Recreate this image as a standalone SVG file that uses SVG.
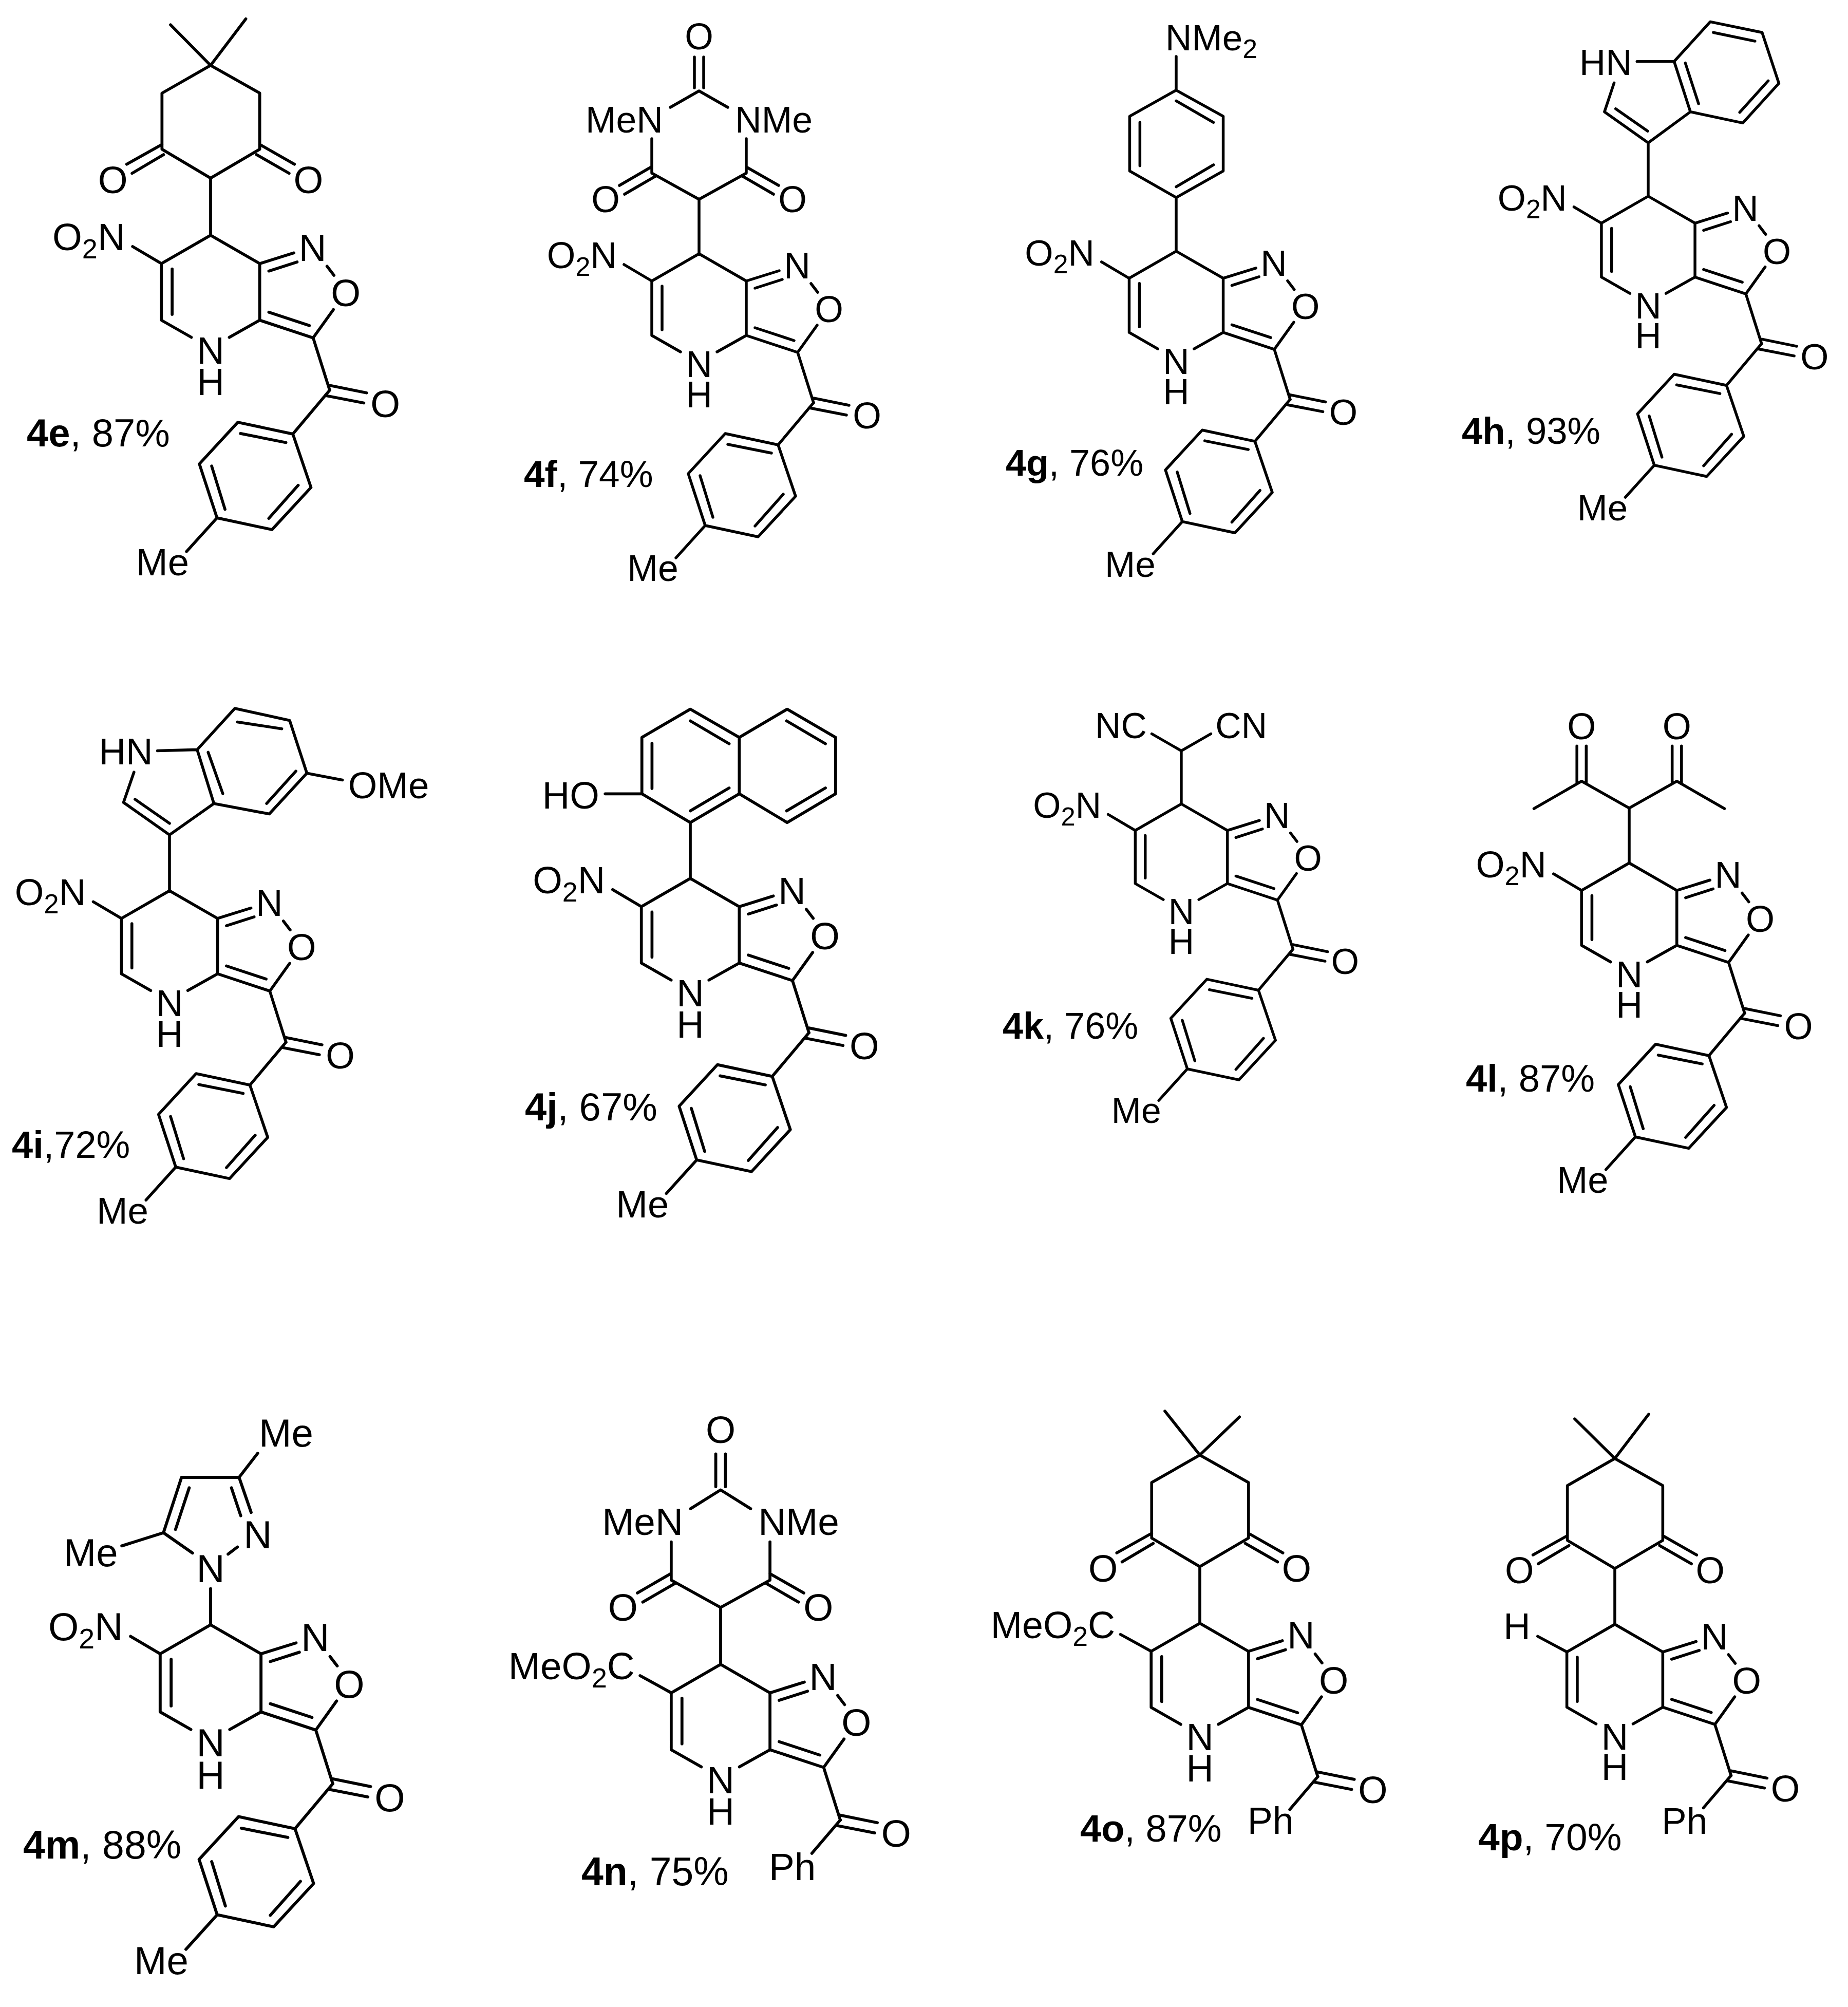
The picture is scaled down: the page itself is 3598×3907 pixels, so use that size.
<svg xmlns="http://www.w3.org/2000/svg" width="3598" height="3907" viewBox="0 0 3598 3907">
<style>
.b{fill:none;stroke:#000;stroke-width:5.5;stroke-linecap:round;stroke-linejoin:round}
text{font-family:"Liberation Sans",Arial,sans-serif;font-size:71.5px;fill:#000}
.c{text-anchor:middle}
.e{text-anchor:end}
.s{font-size:52px}
.l{font-size:74px}
.lb{font-weight:bold}
</style>
<defs>
<path id="core" class="b" d="M0 0L-92 53L-92 159L-36 191M35 191L92 159L92 53L0 0M-72 63V148M92 53L156 33M109 67L162 50M218 58L231 75M230 139L192 192L92 159M109 144L185 169M192 192L223 290M223 281L292 295M215 300L287 314"/>
<path id="tolyl" class="b" d="M223 290L154 372L51 350L-21 428L12 529L115 551L188 472L154 372M141 388L56 371M2 432L27 513M164 468L109 530M12 529L-45 592"/>
<path id="phbond" class="b" d="M223 290L170 352"/>
<path id="nitro" class="b" d="M-92 53L-146 21"/>
<path id="ester" class="b" d="M-92 53L-150 21"/>
<path id="dione" class="b" d="M0 0V-107L-91 -161V-266L0 -318L92 -266V-161L0 -107M-91 -170L-157 -133M-88 -151L-147 -116M92 -170L157 -133M86 -151L147 -116"/>
<path id="barb" class="b" d="M0 0V-106L-92 -157V-224M-56 -285L0 -317L56 -285M92 -224V-157L0 -106M-9 -323V-383M9 -323V-383M-93 -169L-155 -133M-83 -152L-145 -116M92 -169L155 -133M83 -152L145 -116"/>
</defs>

<g id="m4e" transform="translate(410 458) scale(1.04)">
<use href="#core"/><use href="#tolyl"/><use href="#nitro"/><use href="#dione"/>
<path class="b" d="M0 -318L-75 -394M0 -318L66 -405"/>
<text class="c" x="-183" y="-79">O</text><text class="c" x="183" y="-79">O</text>
<text class="e" x="-160" y="28">O<tspan class="s" dy="15">2</tspan><tspan dy="-15">N</tspan></text>
<text class="c" x="191" y="48">N</text><text class="c" x="253" y="133">O</text><text class="c" x="0" y="240">N</text><text class="c" x="0" y="299">H</text><text class="c" x="327" y="340">O</text><text class="c" x="-90" y="637">Me</text>
</g>
<text id="l4e" class="l" x="52" y="869" style="font-size:76px"><tspan class="lb">4e</tspan>, 87%</text>

<g id="m4f" transform="translate(1361 494)">
<use href="#core"/><use href="#tolyl"/><use href="#nitro"/><use href="#barb"/>
<text class="c" x="0" y="-398">O</text><text class="e" x="-70" y="-236">MeN</text><text x="70" y="-236">NMe</text><text class="c" x="-182" y="-81">O</text><text class="c" x="182" y="-81">O</text>
<text class="e" x="-160" y="28">O<tspan class="s" dy="15">2</tspan><tspan dy="-15">N</tspan></text>
<text class="c" x="191" y="48">N</text><text class="c" x="253" y="133">O</text><text class="c" x="0" y="240">N</text><text class="c" x="0" y="299">H</text><text class="c" x="327" y="340">O</text><text class="c" x="-90" y="637">Me</text>
</g>
<text id="l4f" class="l" x="1020" y="948" style="font-size:73px"><tspan class="lb">4f</tspan>, 74%</text>

<g id="m4g" transform="translate(2290 489) scale(.995)">
<use href="#core"/><use href="#tolyl"/><use href="#nitro"/>
<path class="b" d="M0 0V-105L-91 -157V-264L0 -315L92 -264V-157L0 -105M0 -294L73 -252M-71 -252V-167M0 -126L73 -169M0 -315V-381"/>
<text x="-21" y="-393">NMe<tspan class="s" dy="15">2</tspan></text>
<text class="e" x="-160" y="28">O<tspan class="s" dy="15">2</tspan><tspan dy="-15">N</tspan></text>
<text class="c" x="191" y="48">N</text><text class="c" x="253" y="133">O</text><text class="c" x="0" y="240">N</text><text class="c" x="0" y="299">H</text><text class="c" x="327" y="340">O</text><text class="c" x="-90" y="637">Me</text>
</g>
<text id="l4g" class="l" x="1958" y="926" style="font-size:72px"><tspan class="lb">4g</tspan>, 76%</text>

<g id="m4h" transform="translate(3209 382) scale(.99)">
<use href="#core"/><use href="#tolyl"/><use href="#nitro"/>
<path class="b" d="M0 0V-105L-86 -166L-67 -223M-64 -172L-1 -128M0 -105L83 -166L51 -265L-22 -265M99 -182L73 -262M51 -265L122 -343L224 -322L257 -222L186 -144L83 -166M128 -322L210 -305M236 -227L180 -165"/>
<text class="e" x="-32" y="-238">HN</text>
<text class="e" x="-160" y="28">O<tspan class="s" dy="15">2</tspan><tspan dy="-15">N</tspan></text>
<text class="c" x="191" y="48">N</text><text class="c" x="253" y="133">O</text><text class="c" x="0" y="240">N</text><text class="c" x="0" y="299">H</text><text class="c" x="327" y="340">O</text><text class="c" x="-90" y="637">Me</text>
</g>
<text id="l4h" class="l" x="2846" y="864" style="font-size:72.5px"><tspan class="lb">4h</tspan>, 93%</text>

<g id="m4i" transform="translate(330 1734) scale(1.017)">
<use href="#core"/><use href="#tolyl"/><use href="#nitro"/>
<path class="b" d="M0 0V-107L-88 -169L-68 -227M-66 -175L0 -129M0 -107L85 -167L53 -270L-23 -268M102 -186L74 -265M53 -270L125 -349L230 -326L263 -225L191 -147L85 -167M130 -323L215 -310M242 -229L186 -167M263 -225L331 -212"/>
<text class="e" x="-32" y="-242">HN</text><text x="342" y="-177">OMe</text>
<text class="e" x="-160" y="28">O<tspan class="s" dy="15">2</tspan><tspan dy="-15">N</tspan></text>
<text class="c" x="191" y="48">N</text><text class="c" x="253" y="133">O</text><text class="c" x="0" y="240">N</text><text class="c" x="0" y="299">H</text><text class="c" x="327" y="340">O</text><text class="c" x="-90" y="637">Me</text>
</g>
<text id="l4i" class="l" x="23" y="2254"><tspan class="lb">4i</tspan>,72%</text>

<g id="m4j" transform="translate(1344 1710) scale(1.036)">
<use href="#core"/><use href="#tolyl"/><use href="#nitro"/>
<path class="b" d="M0 0V-105L-91 -159V-265L0 -318L92 -265V-159L0 -105M92 -265L182 -318L273 -265V-159L182 -105L92 -159M-72 -254V-169M0 -296L73 -253M0 -127L73 -170M181 -296L254 -253M181 -127L254 -170M-91 -159H-160"/>
<text class="e" x="-171" y="-131">HO</text>
<text class="e" x="-160" y="28">O<tspan class="s" dy="15">2</tspan><tspan dy="-15">N</tspan></text>
<text class="c" x="191" y="48">N</text><text class="c" x="253" y="133">O</text><text class="c" x="0" y="240">N</text><text class="c" x="0" y="299">H</text><text class="c" x="327" y="340">O</text><text class="c" x="-90" y="637">Me</text>
</g>
<text id="l4j" class="l" x="1022" y="2181" style="font-size:76px"><tspan class="lb">4j</tspan>, 67%</text>

<g id="m4k" transform="translate(2300 1565) scale(.975)">
<use href="#core"/><use href="#tolyl"/><use href="#nitro"/>
<path class="b" d="M0 0V-106L-59 -140M0 -106L59 -140"/>
<text class="e" x="-69" y="-131">NC</text><text x="68" y="-131">CN</text>
<text class="e" x="-160" y="28">O<tspan class="s" dy="15">2</tspan><tspan dy="-15">N</tspan></text>
<text class="c" x="191" y="48">N</text><text class="c" x="253" y="133">O</text><text class="c" x="0" y="240">N</text><text class="c" x="0" y="299">H</text><text class="c" x="327" y="340">O</text><text class="c" x="-90" y="637">Me</text>
</g>
<text id="l4k" class="l" x="1952" y="2022" style="font-size:72px"><tspan class="lb">4k</tspan>, 76%</text>

<g id="m4l" transform="translate(3172 1680) scale(1.008)">
<use href="#core"/><use href="#tolyl"/><use href="#nitro"/>
<path class="b" d="M0 0V-106L-92 -158L-184 -105M0 -106L92 -158L184 -105M-101 -155V-226M-83 -155V-226M83 -155V-226M101 -155V-226"/>
<text class="c" x="-92" y="-239">O</text><text class="c" x="92" y="-239">O</text>
<text class="e" x="-160" y="28">O<tspan class="s" dy="15">2</tspan><tspan dy="-15">N</tspan></text>
<text class="c" x="191" y="48">N</text><text class="c" x="253" y="133">O</text><text class="c" x="0" y="240">N</text><text class="c" x="0" y="299">H</text><text class="c" x="327" y="340">O</text><text class="c" x="-90" y="637">Me</text>
</g>
<text id="l4l" class="l" x="2854" y="2125"><tspan class="lb">4l</tspan>, 87%</text>

<g id="m4m" transform="translate(410 3163) scale(1.067)">
<use href="#core"/><use href="#tolyl"/><use href="#nitro"/>
<path class="b" d="M0 0V-66M32 -129L49 -142M-33 -131L-86 -168L-53 -269H52L74 -205M-64 -174L-39 -250M38 -250L55 -199M52 -269L86 -313M-86 -168L-162 -144"/>
<text class="c" x="0" y="-78">N</text><text class="c" x="86" y="-140">N</text><text x="88" y="-325">Me</text><text class="e" x="-169" y="-107">Me</text>
<text class="e" x="-160" y="28">O<tspan class="s" dy="15">2</tspan><tspan dy="-15">N</tspan></text>
<text class="c" x="191" y="48">N</text><text class="c" x="253" y="133">O</text><text class="c" x="0" y="240">N</text><text class="c" x="0" y="299">H</text><text class="c" x="327" y="340">O</text><text class="c" x="-90" y="637">Me</text>
</g>
<text id="l4m" class="l" x="45" y="3618" style="font-size:77px"><tspan class="lb">4m</tspan>, 88%</text>

<g id="m4n" transform="translate(1403 3240) scale(1.045)">
<use href="#core"/><use href="#phbond"/><use href="#ester"/>
<path class="b" d="M0 0V-106L-92 -157V-228M-56 -290L0 -325L56 -290M92 -228V-157L0 -106M-9 -331V-392M9 -331V-392M-93 -169L-155 -133M-83 -152L-145 -116M92 -169L155 -133M83 -152L145 -116"/>
<text class="c" x="0" y="-412">O</text><text class="e" x="-70" y="-241">MeN</text><text x="70" y="-241">NMe</text><text class="c" x="-182" y="-81">O</text><text class="c" x="182" y="-81">O</text>
<text class="e" x="-160" y="28">MeO<tspan class="s" dy="15">2</tspan><tspan dy="-15">C</tspan></text>
<text class="c" x="191" y="48">N</text><text class="c" x="253" y="133">O</text><text class="c" x="0" y="240">N</text><text class="c" x="0" y="299">H</text><text class="c" x="327" y="340">O</text><text x="90" y="402">Ph</text>
</g>
<text id="l4n" class="l" x="1132" y="3670" style="font-size:77px"><tspan class="lb">4n</tspan>, 75%</text>

<g id="m4o" transform="translate(2336 3160) scale(1.03)">
<use href="#core"/><use href="#phbond"/><use href="#ester"/><use href="#dione"/>
<path class="b" d="M0 -318L-66 -401M0 -318L75 -390"/>
<text class="c" x="-183" y="-79">O</text><text class="c" x="183" y="-79">O</text>
<text class="e" x="-160" y="28">MeO<tspan class="s" dy="15">2</tspan><tspan dy="-15">C</tspan></text>
<text class="c" x="191" y="48">N</text><text class="c" x="253" y="133">O</text><text class="c" x="0" y="240">N</text><text class="c" x="0" y="299">H</text><text class="c" x="327" y="340">O</text><text x="90" y="398">Ph</text>
</g>
<text id="l4o" class="l" x="2103" y="3585"><tspan class="lb">4o</tspan>, 87%</text>

<g id="m4p" transform="translate(3144 3162) scale(1.015)">
<use href="#core"/><use href="#phbond"/><use href="#dione"/>
<path class="b" d="M0 -318L-77 -394M0 -318L65 -403M-92 53L-148 23"/>
<text class="c" x="-183" y="-79">O</text><text class="c" x="183" y="-79">O</text>
<text class="e" x="-162" y="29">H</text>
<text class="c" x="191" y="48">N</text><text class="c" x="253" y="133">O</text><text class="c" x="0" y="240">N</text><text class="c" x="0" y="299">H</text><text class="c" x="327" y="340">O</text><text x="90" y="402">Ph</text>
</g>
<text id="l4p" class="l" x="2878" y="3602" style="font-size:75px"><tspan class="lb">4p</tspan>, 70%</text>
</svg>
